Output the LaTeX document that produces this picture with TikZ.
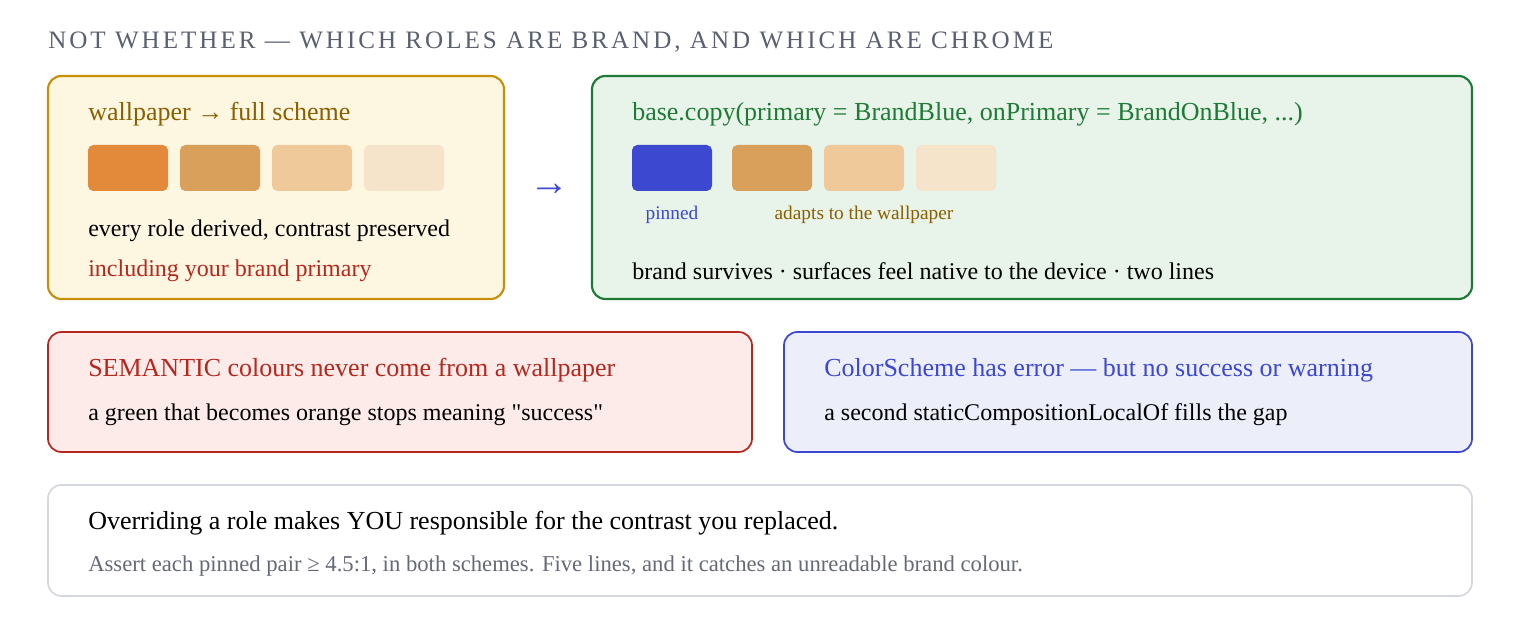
\documentclass[tikz,border=0pt]{standalone}
\usepackage{fontspec}
\setmainfont{Liberation Serif}
\usetikzlibrary{positioning}
\definecolor{ambertext}{HTML}{8A5F00}
\definecolor{amberline}{HTML}{C98F0A}
\definecolor{amberfill}{HTML}{FDF7E1}
\definecolor{greentext}{HTML}{1E7B35}
\definecolor{greenfill}{HTML}{E8F3E9}
\definecolor{redtext}{HTML}{B5281E}
\definecolor{redfill}{HTML}{FDEBEA}
\definecolor{bluetext}{HTML}{3B48CF}
\definecolor{bluefill}{HTML}{ECEEFA}
\definecolor{greyline}{HTML}{D5D8DE}
\definecolor{greytext}{HTML}{666A78}
\definecolor{titlegrey}{HTML}{5A6070}
\definecolor{swatchA}{HTML}{E28A3A}
\definecolor{swatchB}{HTML}{D9A05C}
\definecolor{swatchC}{HTML}{F0C99A}
\definecolor{swatchD}{HTML}{F5E3CA}
\definecolor{brandblue}{HTML}{3C48D0}
\begin{document}
\begin{tikzpicture}[x=0.75pt, y=-0.75pt,
        panel/.style={rounded corners=10pt, line width=1.6pt},
        swatch/.style={rounded corners=4pt},
        label/.style={anchor=west, inner sep=0pt, font=\fontsize{18}{21}\selectfont},
        heading/.style={anchor=west, inner sep=0pt, font=\fontsize{19.5}{23}\selectfont},
        tiny/.style={inner sep=0pt, font=\fontsize{14.5}{17}\selectfont}]
        \useasboundingbox (0,0) rectangle (1520,620);
        \node[anchor=west, inner sep=0pt, text=titlegrey, font=\fontsize{18.8}{21}\selectfont\addfontfeature{LetterSpace=12}] (title) at (48,42) {NOT WHETHER — WHICH ROLES ARE BRAND, AND WHICH ARE CHROME};
        % wallpaper panel
        \draw[panel, draw=amberline, fill=amberfill] (48,76) rectangle (504,299);
        \node[heading, text=ambertext] (wallhead) at (88,114) {wallpaper → full scheme};
        \fill[swatch, swatchA] (88,145) rectangle (168,191);
        \fill[swatch, swatchB] (180,145) rectangle (260,191);
        \fill[swatch, swatchC] (272,145) rectangle (352,191);
        \fill[swatch, swatchD] (364,145) rectangle (444,191);
        \node[label] (derived) at (88,231) {every role derived, contrast preserved};
        \node[label, text=redtext] (brandtoo) at (88,271) {including your brand primary};
        \node[inner sep=0pt, text=bluetext, font=\fontsize{30}{32}\selectfont] (arrow) at (549,190) {→};
        % copy panel
        \draw[panel, draw=greentext, fill=greenfill] (592,76) rectangle (1472,299);
        \node[heading, text=greentext] (copyhead) at (632,114) {base.copy(primary = BrandBlue, onPrimary = BrandOnBlue, ...)};
        \fill[swatch, brandblue] (632,145) rectangle (712,191);
        \fill[swatch, swatchB] (732,145) rectangle (812,191);
        \fill[swatch, swatchC] (824,145) rectangle (904,191);
        \fill[swatch, swatchD] (916,145) rectangle (996,191);
        \node[tiny, text=bluetext] (pinned) at (672,215) {pinned};
        \node[tiny, text=ambertext] (adapts) at (864,215) {adapts to the wallpaper};
        \node[label] (survives) at (632,271) {brand survives · surfaces feel native to the device · two lines};
        % semantic panel
        \draw[panel, line width=1.3pt, draw=redtext, fill=redfill] (48,332) rectangle (752,452);
        \node[heading, text=redtext] (semhead) at (88,370) {SEMANTIC colours never come from a wallpaper};
        \node[label] (semtext) at (88,415) {a green that becomes orange stops meaning \textquotedbl success\textquotedbl};
        % error panel
        \draw[panel, line width=1.3pt, draw=bluetext, fill=bluefill] (784,332) rectangle (1472,452);
        \node[heading, text=bluetext] (errhead) at (824,370) {ColorScheme has error — but no success or warning};
        \node[label] (errtext) at (824,415) {a second staticCompositionLocalOf fills the gap};
        % contrast panel
        \draw[panel, line width=1.3pt, draw=greyline, fill=white] (48,485) rectangle (1472,596);
        \node[heading] (override) at (88,523) {Overriding a role makes YOU responsible for the contrast you replaced.};
        \node[label, text=greytext, font=\fontsize{17}{20}\selectfont] (assert) at (88,566) {Assert each pinned pair ≥ 4.5:1, in both schemes. Five lines, and it catches an unreadable brand colour.};
\end{tikzpicture}
\end{document}
